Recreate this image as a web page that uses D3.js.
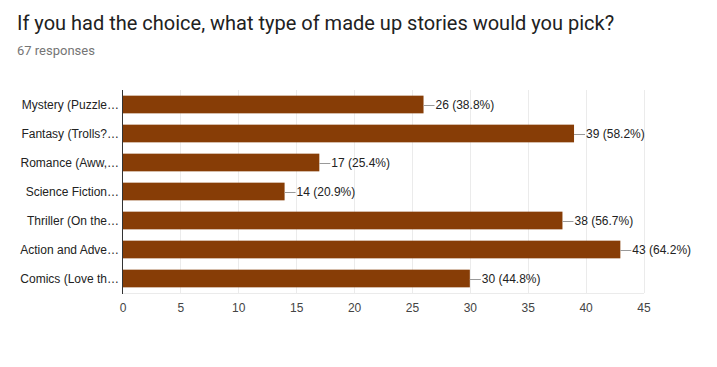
<!DOCTYPE html>
<html><head><meta charset="utf-8">
<script src="https://cdn.jsdelivr.net/npm/d3@7"></script>
<style>body{margin:0;background:#fff;}svg{display:block;}</style>
</head><body>
<script>
const categories = ["Mystery (Puzzle…","Fantasy (Trolls?…","Romance (Aww,…","Science Fiction…","Thriller (On the…","Action and Adve…","Comics (Love th…"];
const counts = [26,39,17,14,38,43,30];
const percents = ["38.8%","58.2%","25.4%","20.9%","56.7%","64.2%","44.8%"];
const xTicks = [0,5,10,15,20,25,30,35,40,45];
const title = "If you had the choice, what type of made up stories would you pick?";
const subtitle = "67 responses";

const W=717,H=367;
const svg=d3.select("body").append("svg").attr("width",W).attr("height",H);
svg.append("text").attr("x",17).attr("y",30).attr("font-family","Roboto, 'Liberation Sans', sans-serif")
  .attr("font-size",20).attr("fill","#212121").text(title);
svg.append("text").attr("x",17).attr("y",55).attr("font-family","Roboto, 'Liberation Sans', sans-serif")
  .attr("font-size",13).attr("fill","#757575").text(subtitle);

const x=d3.scaleLinear().domain([0,45]).range([122.5,643.5]);
const y=d3.scaleBand().domain(categories).range([90,293]).paddingInner(0.39).paddingOuter(0.195);
const font="Arial, 'Liberation Sans', sans-serif";

const g=svg.append("g");
g.selectAll("line.grid").data(xTicks.slice(1)).join("line").attr("class","grid")
  .attr("x1",d=>Math.round(x(d))+0.5).attr("x2",d=>Math.round(x(d))+0.5).attr("y1",90).attr("y2",293)
  .attr("stroke","#ebebeb");
g.append("line").attr("x1",122).attr("x2",644).attr("y1",293.5).attr("y2",293.5).attr("stroke","#ebebeb");

g.selectAll("rect.bar").data(counts).join("rect").attr("class","bar")
  .attr("x",x(0)).attr("y",(d,i)=>y(categories[i])).attr("width",d=>x(d)-x(0)).attr("height",y.bandwidth())
  .attr("fill","#873d06");

g.append("line").attr("x1",122.5).attr("x2",122.5).attr("y1",90).attr("y2",294).attr("stroke","#333");

g.selectAll("line.lead").data(counts).join("line").attr("class","lead")
  .attr("x1",d=>x(d)).attr("x2",d=>x(d)+11)
  .attr("y1",(d,i)=>Math.round(y(categories[i])+y.bandwidth()/2)+0.5).attr("y2",(d,i)=>Math.round(y(categories[i])+y.bandwidth()/2)+0.5)
  .attr("stroke","#999");
g.selectAll("text.val").data(counts).join("text").attr("class","val")
  .attr("x",d=>x(d)+12).attr("y",(d,i)=>y(categories[i])+y.bandwidth()/2).attr("dy","0.35em")
  .attr("font-family",font).attr("font-size",12).attr("fill","#222")
  .text((d,i)=>`${d} (${percents[i]})`);

g.selectAll("text.cat").data(categories).join("text").attr("class","cat")
  .attr("x",119).attr("y",d=>y(d)+y.bandwidth()/2).attr("dy","0.35em").attr("text-anchor","end")
  .attr("font-family",font).attr("font-size",12).attr("fill","#222").text(d=>d);

const axis=d3.axisBottom(x).tickValues(xTicks).tickSize(0).tickPadding(0);
const ax=svg.append("g").attr("transform","translate(0,303)").call(axis);
ax.select(".domain").remove();
ax.selectAll("text").attr("font-family",font).attr("font-size",12).attr("fill","#444").attr("dy","0.71em");
</script>
</body></html>
